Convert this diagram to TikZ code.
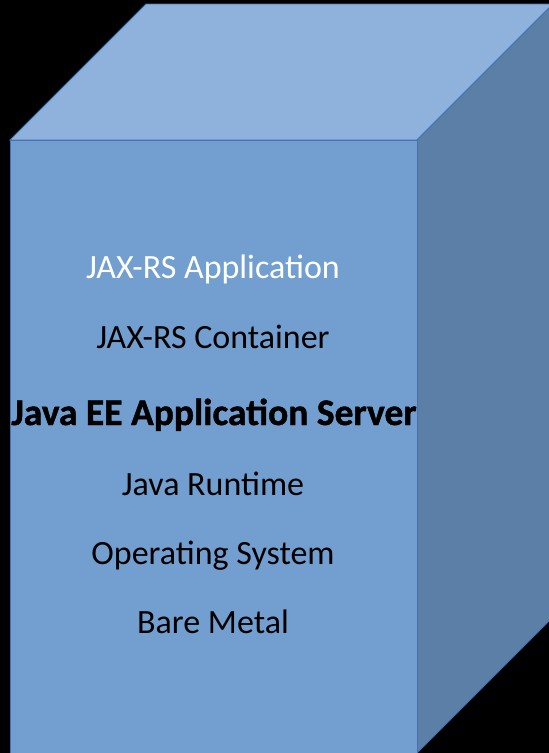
\documentclass[tikz,border=0pt]{standalone}
\usepackage{fontspec}
\setmainfont{Carlito}[BoldFeatures={FakeBold=1.2}]
\usepackage{tikz}
\usepackage{xcolor}

\definecolor{frontblue}{RGB}{114,159,207}
\definecolor{topblue}{RGB}{142,178,219}
\definecolor{sideblue}{RGB}{91,127,166}
\definecolor{edgeblue}{RGB}{68,114,180}

\tikzset{
    face/.style={draw=edgeblue, line width=0.9pt, line join=miter},
    layer/.style={anchor=base, inner sep=0pt, font=\fontsize{34}{40}\selectfont},
    serverlayer/.style={layer, font=\fontsize{37.5}{44}\selectfont\bfseries}
}

\begin{document}
\begin{tikzpicture}[x=1pt, y=-1pt]

    % Fondo
    \fill[black] (0,0) rectangle (549,753);
    \useasboundingbox (0,0) rectangle (549,753);
    \clip (0,0) rectangle (549,753);

    % Caras del cubo
    \draw[face, fill=topblue] (10,140) -- (146,4) -- (553,4) -- (417,140) -- cycle;
    \draw[face, fill=sideblue] (417,140) -- (553,4) -- (553,617) -- (417,753) -- cycle;
    \draw[face, fill=frontblue] (10,760) -- (10,140) -- (417,140) -- (417,760);

    % Capas
    \node[layer, text=white] (app) at (213,278) {JAX-RS Application};
    \node[layer] (container) at (213,348) {JAX-RS Container};
    \node[serverlayer] (server) at (214,425) {Java EE Application Server};
    \node[layer] (runtime) at (213,495) {Java Runtime};
    \node[layer] (os) at (213,564) {Operating System};
    \node[layer] (metal) at (213,633) {Bare Metal};

\end{tikzpicture}
\end{document}
